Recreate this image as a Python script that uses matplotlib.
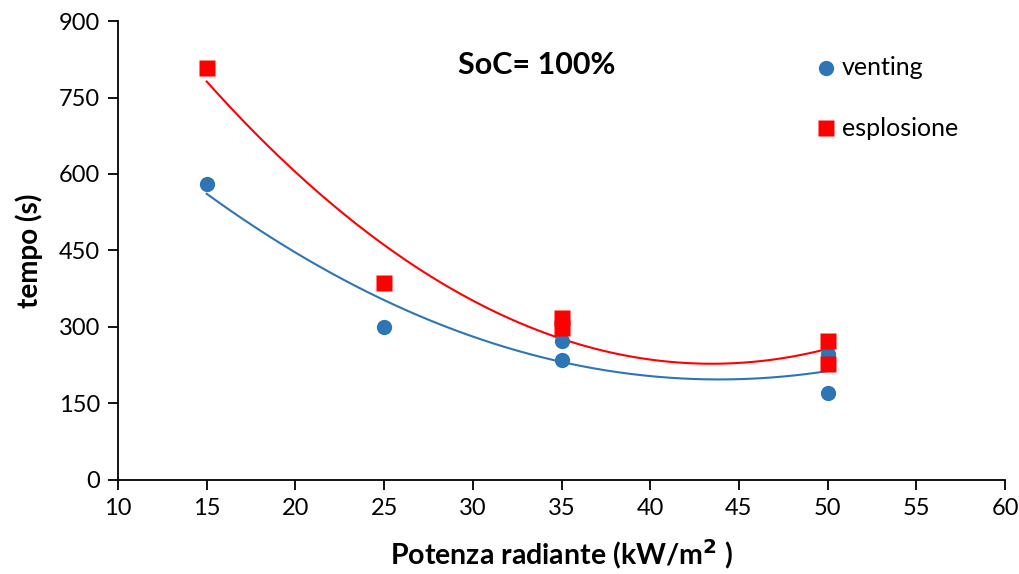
import numpy as np
import matplotlib
matplotlib.use("Agg")
import matplotlib.pyplot as plt

plt.rcParams['font.family'] = ['Lato', 'DejaVu Sans']

vent_x = [15, 25, 35, 35, 50, 50]
vent_y = [580, 300, 272, 235, 247, 170]
espl_x = [15, 25, 35, 35, 50, 50]
espl_y = [808, 386, 318, 298, 272, 228]

blue = '#2E75B6'
red = '#FF0000'

fig = plt.figure(figsize=(10.19, 5.74), dpi=100)
ax = fig.add_axes([0.1158, 0.1638, 0.8705, 0.7996])

xs = np.linspace(15, 50, 200)
for xv, yv, c in [(vent_x, vent_y, blue), (espl_x, espl_y, red)]:
    p = np.polyfit(xv, yv, 2)
    ax.plot(xs, np.polyval(p, xs), color=c, lw=1.5, zorder=2)

ax.plot(vent_x, vent_y, 'o', color=blue, ms=11, mec='none', zorder=3)
ax.plot(espl_x, espl_y, 's', color=red, ms=11, mec='none', zorder=3)

ax.set_xlim(10, 60)
ax.set_ylim(0, 900)
ax.set_xticks(range(10, 61, 5))
ax.set_yticks(range(0, 901, 150))
ax.spines['top'].set_visible(False)
ax.spines['right'].set_visible(False)
for s in ['left', 'bottom']:
    ax.spines[s].set_linewidth(1.3)
ax.tick_params(direction='out', length=7, width=1.3, labelsize=17, pad=6)

ax.set_xlabel('Potenza radiante (kW/m$^{\\mathbf{2}}$ )', fontsize=20.5, fontweight='bold', labelpad=13)
ax.set_ylabel('tempo (s)', fontsize=20, fontweight='bold', labelpad=11)

ax.text(0.472, 0.904, 'SoC= 100%', transform=ax.transAxes, fontsize=22, fontweight='bold', ha='center', va='center')

# legend entries
ax.plot([49.9], [808], 'o', color=blue, ms=11, mec='none', clip_on=False)
ax.text(50.8, 808, 'venting', fontsize=18, va='center')
ax.plot([49.9], [690], 's', color=red, ms=11, mec='none', clip_on=False)
ax.text(50.8, 690, 'esplosione', fontsize=18, va='center')

fig.savefig('out.png', dpi=100)
